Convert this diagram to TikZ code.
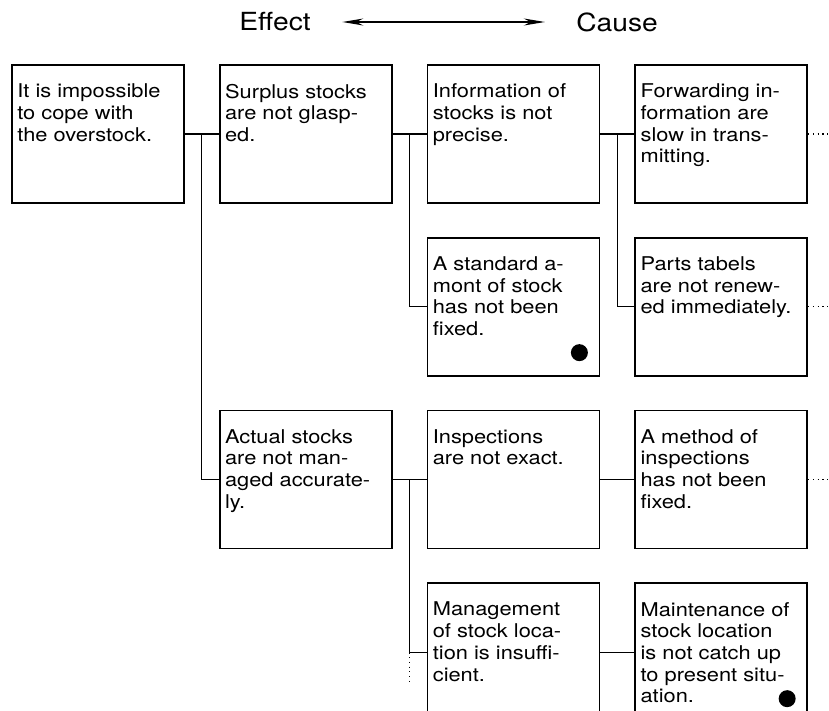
\documentclass[tikz,border=0pt]{standalone}
\usepackage{fontspec}
\setmainfont[FakeStretch=1.15]{TeX Gyre Heros}
\newfontfamily\headfont[FakeStretch=1.13]{TeX Gyre Heros}
\usepackage{tikz}
\usetikzlibrary{arrows.meta,positioning,calc}

\begin{document}
\begin{tikzpicture}[
    >={Stealth[length=0.42cm, width=0.14cm]},
    node distance=0.66cm and 0.68cm,
    thick,
    box/.style={draw, line width=1pt, minimum width=3.44cm, minimum height=2.76cm, inner sep=0pt},
    txt/.style={anchor=north west, align=left, inner sep=0pt, xshift=0.11cm, yshift=-0.38cm, font=\fontsize{10.8}{12.35}\selectfont},
    head/.style={font=\headfont\fontsize{14.2}{17}\selectfont},
    link/.style={line width=0.7pt},
    blob/.style={circle, fill=black, inner sep=0pt, minimum size=0.34cm}
]
    \useasboundingbox (0,0) rectangle (16.58,-14.2);

    % Header - effect on the left, cause on the right
    \node[head] (effect) at (5.5,-0.44) {Effect};
    \node[head, right=5.05cm of effect] (cause) {Cause};
    \draw[<->, link, shorten <=0.5cm, shorten >=0.5cm] (effect.east) -- (cause.west);

    % Boxes - upper branch
    \node[box, label={[txt]north west:{It is impossible\\to cope with\\the overstock.}}] (cope) at (1.96,-2.68) {};
    \node[box, right=of cope, label={[txt]north west:{Surplus stocks\\are not glasp-\\ed.}}] (surplus) {};
    \node[box, right=of surplus, label={[txt]north west:{Information of\\stocks is not\\precise.}}] (info) {};
    \node[box, right=of info, label={[txt]north west:{Forwarding in-\\formation are\\slow in trans-\\mitting.}}] (forward) {};
    \node[box, below=of info, label={[txt]north west:{A standard a-\\mont of stock\\has not been\\fixed.}}] (standard) {};
    \node[box, below=of forward, label={[txt]north west:{Parts tabels\\are not renew-\\ed immediately.}}] (tabels) {};

    % Boxes - lower branch
    \node[box, below=of standard, label={[txt]north west:{Inspections\\are not exact.}}] (inspect) {};
    \node[box, left=of inspect, label={[txt]north west:{Actual stocks\\are not man-\\aged accurate-\\ly.}}] (actual) {};
    \node[box, right=of inspect, label={[txt]north west:{A method of\\inspections\\has not been\\fixed.}}] (method) {};
    \node[box, below=of inspect, label={[txt]north west:{Management\\of stock loca-\\tion is insuffi-\\cient.}}] (manage) {};
    \node[box, below=of method, label={[txt]north west:{Maintenance of\\stock location\\is not catch up\\to present situ-\\ation.}}] (maintain) {};

    % Marks
    \node[blob] (standarddot) at ($(standard.south east)+(-0.42,0.48)$) {};
    \node[blob] (maintaindot) at ($(maintain.south east)+(-0.42,0.47)$) {};

    % Links between boxes
    \draw[link] (cope.east) -- (surplus.west);
    \draw[link] ($(cope.east)!0.5!(surplus.west)$) |- (actual.west);
    \draw[link] (surplus.east) -- (info.west);
    \draw[link] ($(surplus.east)!0.5!(info.west)$) |- (standard.west);
    \draw[link] (info.east) -- (forward.west);
    \draw[link] ($(info.east)!0.5!(forward.west)$) |- (tabels.west);
    \draw[link] (actual.east) -- (inspect.west);
    \coordinate (split) at ($(actual.east)!0.5!(inspect.west)$);
    \draw[link] (split) |- (manage.west);
    \draw[link] (inspect.east) -- (method.west);
    \draw[link] (manage.east) -- (maintain.west);

    % Loose ends - dotted
    \coordinate (forwardend) at ([xshift=1cm]forward.east);
    \coordinate (tabelsend) at ([xshift=1cm]tabels.east);
    \coordinate (methodend) at ([xshift=1cm]method.east);
    \coordinate (tail) at ($(split |- manage.west)+(0,-0.66)$);
    \draw[link, dotted] (forward.east) -- (forwardend);
    \draw[link, dotted] (tabels.east) -- (tabelsend);
    \draw[link, dotted] (method.east) -- (methodend);
    \draw[link, dotted] (split |- manage.west) -- (tail);

\end{tikzpicture}
\end{document}
